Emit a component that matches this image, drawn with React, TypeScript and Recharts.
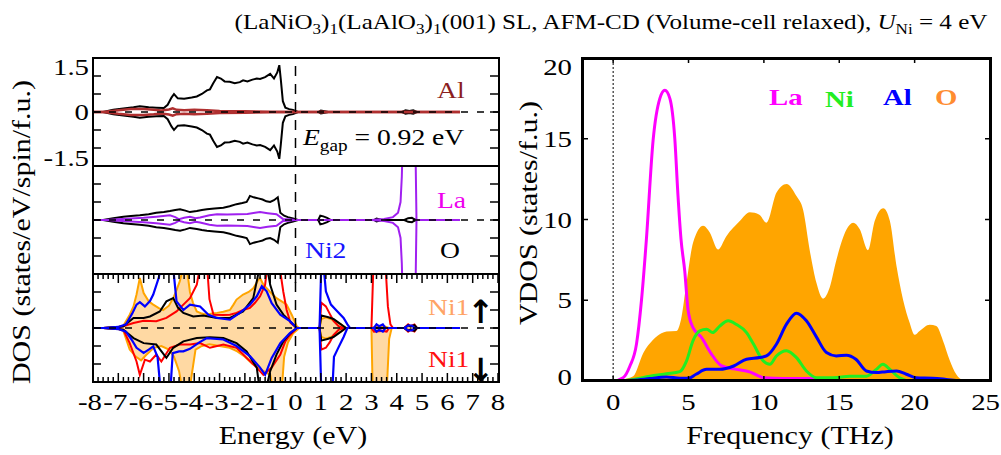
import React from 'react';
import { Area, ComposedChart, Line, ReferenceLine, XAxis, YAxis } from 'recharts';

type Pt = [number, number];

const SERIF = "'Liberation Serif', 'Times New Roman', serif";
const SX = 1.2; // the source figure's lettering is stretched sideways

// ---- axes ----
const energyLabels = [-8, -7, -6, -5, -4, -3, -2, -1, 0, 1, 2, 3, 4, 5, 6, 7, 8];
const dosYTicks = [-1.5, -1, -0.5, 0, 0.5, 1, 1.5];
const dosYLabels = [1.5, 0, -1.5];
const freqTicks = [0, 5, 10, 15, 20, 25];
const vdosYTicks = [0, 5, 10, 15, 20];

// ---- DOS, top panel (Al layer), mirrored spin channels ----
const topBlack: Pt[] = [
  [-8, 0], [-7.6, 0], [-7.2, 0.06], [-6.8, 0.1], [-6.4, 0.13], [-6.15, 0.16], [-5.8, 0.13], [-5.5, 0.12],
  [-5.2, 0.11], [-5.05, 0.2], [-4.9, 0.4], [-4.8, 0.5], [-4.65, 0.38], [-4.4, 0.37], [-4.1, 0.4], [-3.9, 0.43],
  [-3.7, 0.5], [-3.5, 0.6], [-3.38, 0.63], [-3.25, 0.8], [-3.1, 0.97], [-2.95, 0.93], [-2.8, 0.85], [-2.6, 0.84],
  [-2.4, 0.8], [-2.2, 0.83], [-2.07, 0.88], [-1.9, 0.85], [-1.7, 0.9], [-1.53, 0.93], [-1.4, 0.92], [-1.2, 0.97],
  [-1.0, 1.06], [-0.85, 0.93], [-0.72, 1.1], [-0.64, 1.3], [-0.58, 0.9], [-0.5, 0.3], [-0.4, 0.12], [-0.25, 0.08],
  [-0.1, 0.06], [0.1, 0], [0.9, 0], [1.0, 0.04], [1.15, 0.02], [1.3, 0], [4.2, 0], [4.35, 0.05], [4.5, 0.03],
  [4.65, 0.05], [4.8, 0], [6.5, 0],
];
const topAl: Pt[] = [
  [-8, 0], [-7.6, 0], [-7.0, 0.05], [-6.5, 0.08], [-6.0, 0.08], [-5.6, 0.06], [-5.3, 0.04], [-5.0, 0.07],
  [-4.85, 0.1], [-4.7, 0.06], [-4.4, 0.05], [-4.0, 0.06], [-3.5, 0.05], [-3.0, 0.03], [-2.0, 0.02], [-1.0, 0.01],
  [0, 0], [6.5, 0],
];

// ---- DOS, middle panel (La, O) ----
const midBlack: Pt[] = [
  [-8, 0], [-7.6, 0], [-7.2, 0.05], [-6.8, 0.09], [-6.5, 0.11], [-6.15, 0.13], [-5.8, 0.16], [-5.5, 0.2],
  [-5.2, 0.22], [-4.96, 0.25], [-4.75, 0.28], [-4.56, 0.3], [-4.35, 0.26], [-4.17, 0.22], [-3.9, 0.25],
  [-3.7, 0.28], [-3.5, 0.3], [-3.2, 0.32], [-2.85, 0.34], [-2.6, 0.38], [-2.33, 0.44], [-2.1, 0.47],
  [-1.93, 0.5], [-1.85, 0.6], [-1.8, 0.67], [-1.65, 0.63], [-1.47, 0.6], [-1.3, 0.57], [-1.15, 0.52],
  [-1.0, 0.5], [-0.85, 0.55], [-0.7, 0.63], [-0.6, 0.2], [-0.45, 0.12], [-0.3, 0.08], [-0.1, 0.04], [0.1, 0],
  [0.9, 0], [0.98, 0.12], [1.1, 0.1], [1.25, 0.06], [1.4, 0], [3.1, 0], [3.2, 0.04], [3.3, 0.02], [3.4, 0],
  [4.3, 0], [4.45, 0.05], [4.6, 0.06], [4.7, 0.02], [4.8, 0], [6.5, 0],
];
const midLa: Pt[] = [
  [-8, 0], [-7.5, 0], [-6.5, 0.04], [-6.0, 0.06], [-5.5, 0.09], [-4.96, 0.13], [-4.75, 0.08], [-4.6, 0.02],
  [-4.4, 0.06], [-4.17, 0.09], [-3.95, 0.05], [-3.77, 0.07], [-3.4, 0.13], [-3.1, 0.16], [-2.7, 0.15],
  [-2.3, 0.16], [-1.9, 0.17], [-1.6, 0.2], [-1.4, 0.22], [-1.1, 0.19], [-0.75, 0.16], [-0.5, 0.03],
  [-0.3, 0.02], [0, 0], [3.0, 0], [3.5, 0.03], [3.85, 0.08], [4.05, 0.2], [4.15, 0.5], [4.2, 1.2], [4.23, 2],
  [4.74, 2], [4.78, 0], [6.5, 0],
];

// ---- DOS, bottom panel (Ni1, Ni2) ----
const botOrangeUp: Pt[] = [
  [-8, 0], [-7.6, 0], [-7.0, 0.03], [-6.8, 0.06], [-6.55, 0.37], [-6.4, 0.6], [-6.28, 0.93], [-6.15, 1.39],
  [-6.0, 0.97], [-5.8, 0.74], [-5.62, 0.65], [-5.4, 0.55], [-5.23, 0.5], [-5.0, 0.62], [-4.83, 0.83],
  [-4.7, 1.05], [-4.57, 1.3], [-4.43, 1.7], [-4.3, 1.7], [-4.17, 1.0], [-4.05, 0.7], [-3.9, 0.46], [-3.7, 0.4],
  [-3.5, 0.37], [-3.3, 0.4], [-3.1, 0.42], [-2.85, 0.45], [-2.59, 0.5], [-2.45, 0.65], [-2.33, 0.79],
  [-2.07, 0.93], [-1.85, 1.0], [-1.67, 1.1], [-1.5, 1.3], [-1.4, 1.39], [-1.27, 1.2], [-1.0, 1.0],
  [-0.75, 0.83], [-0.5, 0.72], [-0.35, 0.65], [-0.15, 0.37], [0.05, 0.05], [0.15, 0], [0.95, 0], [1.02, 0.25],
  [1.2, 0.3], [1.4, 0.25], [1.6, 0.18], [1.8, 0.1], [2.0, 0], [3.0, 0], [3.2, 0.05], [3.5, 0.05], [3.7, 0],
  [4.3, 0], [4.5, 0.06], [4.7, 0.06], [4.8, 0], [6.5, 0],
];
const botOrangeDown: Pt[] = [
  [-8, 0], [-7.6, 0], [-7.0, -0.03], [-6.8, -0.08], [-6.55, -0.6], [-6.3, -0.8], [-6.1, -0.9], [-5.9, -0.75],
  [-5.6, -0.55], [-5.3, -0.5], [-5.0, -0.6], [-4.8, -0.8], [-4.6, -1.2], [-4.45, -1.8], [-4.2, -1.8],
  [-4.1, -1.3], [-3.95, -0.6], [-3.7, -0.5], [-3.4, -0.45], [-3.0, -0.5], [-2.6, -0.55], [-2.3, -0.65],
  [-2.0, -0.8], [-1.7, -1.0], [-1.45, -1.1], [-1.25, -1.2], [-1.0, -1.3], [-0.85, -1.8], [-0.55, -1.8],
  [-0.45, -0.8], [-0.3, -0.4], [-0.1, -0.15], [0.15, 0], [0.95, 0], [1.02, -0.25], [1.2, -0.3], [1.4, -0.25],
  [1.6, -0.18], [1.8, -0.1], [2.0, 0], [3.0, 0], [3.05, -1.8], [3.6, -1.8], [3.7, -0.3], [3.8, 0], [4.3, 0],
  [4.5, -0.06], [4.7, -0.06], [4.8, 0], [6.5, 0],
];
const botRedUp: Pt[] = [
  [-8, 0], [-7.6, 0], [-7.0, 0.03], [-6.8, 0.05], [-6.4, 0.14], [-6.0, 0.2], [-5.5, 0.19], [-5.1, 0.28],
  [-4.7, 0.46], [-4.43, 0.65], [-4.17, 0.83], [-3.9, 1.2], [-3.75, 1.8], [-3.5, 1.8], [-3.4, 0.8],
  [-3.24, 0.37], [-2.85, 0.36], [-2.59, 0.37], [-2.33, 0.42], [-2.07, 0.5], [-1.8, 0.56], [-1.6, 0.7],
  [-1.4, 0.88], [-1.2, 1.2], [-1.1, 1.8], [-0.65, 1.8], [-0.48, 1.0], [-0.35, 0.5], [-0.2, 0.15], [0.05, 0],
  [0.95, 0], [1.02, 0.7], [1.2, 0.6], [1.35, 0.4], [1.5, 0.2], [1.7, 0.05], [1.9, 0], [3.0, 0], [3.08, 1.8],
  [3.55, 1.8], [3.65, 0.6], [3.75, 0.1], [3.85, 0], [4.3, 0], [4.45, 0.1], [4.55, 0.05], [4.7, 0.1], [4.8, 0],
  [6.5, 0],
];
const botRedDown: Pt[] = [
  [-8, 0], [-7.6, 0], [-7.0, -0.03], [-6.8, -0.05], [-6.55, -0.42], [-6.28, -0.93], [-6.15, -1.3],
  [-5.95, -0.88], [-5.75, -0.93], [-5.5, -0.74], [-5.3, -0.93], [-4.96, -0.55], [-4.57, -0.46],
  [-4.17, -0.46], [-3.77, -0.42], [-3.38, -0.55], [-2.85, -0.46], [-2.33, -0.55], [-1.93, -0.83],
  [-1.53, -1.1], [-1.27, -1.3], [-0.94, -1.1], [-0.6, -0.74], [-0.4, -0.37], [-0.22, -0.2], [0.05, 0],
  [0.95, 0], [1.02, -0.6], [1.2, -0.55], [1.35, -0.4], [1.5, -0.2], [1.7, -0.05], [1.9, 0], [3.0, 0],
  [3.1, -0.1], [3.4, -0.08], [3.6, -0.1], [3.7, 0], [4.3, 0], [4.45, -0.1], [4.55, -0.05], [4.7, -0.1],
  [4.8, 0], [6.5, 0],
];
const botBlackUp: Pt[] = [
  [-8, 0], [-7.6, 0], [-7.0, 0.03], [-6.8, 0.05], [-6.4, 0.28], [-6.0, 0.28], [-5.75, 0.32], [-5.36, 0.46],
  [-5.1, 0.74], [-4.83, 0.83], [-4.64, 0.56], [-4.43, 0.42], [-4.04, 0.32], [-3.64, 0.35], [-3.1, 0.28],
  [-2.59, 0.28], [-2.07, 0.46], [-1.67, 0.83], [-1.5, 1.4], [-1.4, 1.8], [-1.15, 1.8], [-1.0, 1.2],
  [-0.75, 0.65], [-0.48, 0.37], [-0.22, 0.19], [0.05, 0], [0.95, 0], [1.02, 0.35], [1.3, 0.3], [1.5, 0.25],
  [1.7, 0.15], [1.9, 0.05], [2.0, 0], [4.3, 0], [4.45, 0.08], [4.55, 0.04], [4.7, 0.08], [4.8, 0], [6.5, 0],
];
const botBlackDown: Pt[] = [
  [-8, 0], [-7.6, 0], [-7.0, -0.03], [-6.8, -0.05], [-6.4, -0.28], [-6.0, -0.42], [-5.5, -0.46],
  [-5.1, -0.83], [-4.83, -0.55], [-4.43, -0.37], [-3.9, -0.28], [-3.38, -0.26], [-2.85, -0.28],
  [-2.33, -0.42], [-1.93, -0.65], [-1.53, -1.1], [-1.4, -1.8], [-1.2, -1.8], [-1.0, -1.2], [-0.75, -0.74],
  [-0.48, -0.37], [-0.22, -0.15], [0.05, 0], [0.95, 0], [1.02, -0.35], [1.3, -0.3], [1.5, -0.25],
  [1.7, -0.15], [1.9, -0.05], [2.0, 0], [4.3, 0], [4.45, -0.08], [4.55, -0.04], [4.7, -0.08], [4.8, 0], [6.5, 0],
];
const botBlueUp: Pt[] = [
  [-8, 0], [-7.6, 0], [-7.0, 0.03], [-6.7, 0.1], [-6.45, 0.4], [-6.28, 0.65], [-6.15, 0.72], [-5.95, 0.6],
  [-5.75, 0.75], [-5.62, 0.93], [-5.4, 1.4], [-5.3, 1.8], [-4.85, 1.8], [-4.7, 0.74], [-4.43, 0.5],
  [-4.17, 0.65], [-3.77, 0.6], [-3.44, 0.37], [-3.1, 0.28], [-2.59, 0.23], [-2.2, 0.42], [-1.8, 0.65],
  [-1.53, 0.88], [-1.33, 1.16], [-1.14, 1.02], [-0.94, 0.69], [-0.6, 0.37], [-0.22, 0.19], [0.05, 0],
  [0.95, 0], [1.02, 1.8], [1.1, 1.8], [1.2, 1.02], [1.4, 0.65], [1.6, 0.5], [1.9, 0.28], [2.05, 0.1],
  [2.15, 0], [3.1, 0], [3.2, 0.1], [3.3, 0.05], [3.45, 0.1], [3.55, 0], [4.3, 0], [4.45, 0.07], [4.6, 0.07],
  [4.7, 0], [6.5, 0],
];
const botBlueDown: Pt[] = [
  [-8, 0], [-7.6, 0], [-7.0, -0.03], [-6.7, -0.1], [-6.45, -0.35], [-6.28, -0.55], [-6.0, -0.69],
  [-5.8, -0.6], [-5.62, -0.51], [-5.45, -0.8], [-5.32, -1.8], [-4.95, -1.8], [-4.85, -0.7], [-4.6, -0.65],
  [-4.43, -0.65], [-4.17, -0.58], [-3.8, -0.4], [-3.5, -0.28], [-2.85, -0.32], [-2.33, -0.5], [-1.8, -0.78],
  [-1.4, -1.1], [-1.2, -1.3], [-0.94, -0.83], [-0.6, -0.42], [-0.22, -0.14], [0.05, 0], [0.95, 0],
  [1.02, -1.8], [1.45, -1.8], [1.52, -0.8], [1.67, -0.58], [1.9, -0.25], [2.05, 0], [3.1, 0], [3.2, -0.1],
  [3.3, -0.05], [3.45, -0.1], [3.55, 0], [4.3, 0], [4.45, -0.07], [4.6, -0.07], [4.7, 0], [6.5, 0],
];

// ---- phonon VDOS (THz, states/f.u.) ----
const vdosO: Pt[] = [
  [-2, 0], [0, 0], [0.66, 0.1], [1.33, 0.3], [2.0, 1.74], [2.65, 2.55], [3.2, 2.95], [3.54, 3.06], [4.2, 3.1],
  [4.5, 3.8], [4.87, 6.1], [5.3, 8.56], [5.97, 9.62], [6.41, 9.2], [6.96, 8.14], [7.5, 8.95], [8.4, 9.9],
  [9.06, 10.45], [9.7, 10.3], [10.17, 9.8], [10.83, 11.65], [11.5, 12.2], [12.16, 11.45], [12.6, 10.6],
  [13.04, 8.1], [13.48, 6.1], [13.93, 5.1], [14.37, 5.8], [14.81, 7.5], [15.48, 9.38], [15.92, 9.8],
  [16.36, 9.4], [16.91, 8.1], [17.35, 9.9], [17.92, 10.7], [18.36, 9.9], [18.8, 7.1], [19.24, 5.0],
  [19.67, 3.6], [20.0, 2.86], [20.33, 3.1], [21.0, 3.48], [21.44, 3.4], [21.88, 2.5], [22.32, 1.3],
  [22.77, 0.4], [23.2, 0.05], [23.6, 0], [25, 0],
];
const vdosLa: Pt[] = [
  [-2, 0], [0, 0], [0.66, 0.2], [1.1, 0.9], [1.55, 2.3], [1.88, 5.0], [2.2, 8.7], [2.65, 14.9], [3.1, 17.5],
  [3.43, 18.0], [3.76, 17.5], [4.09, 15.0], [4.3, 11.5], [4.5, 8.8], [4.75, 6.8], [4.97, 4.4], [5.3, 3.3],
  [5.86, 2.7], [6.5, 1.7], [7.17, 0.95], [8.0, 0.75], [9.1, 0.55], [10.0, 0.2], [11.3, 0.15], [13.5, 0.15],
  [14.6, 0.05], [16, 0.02], [20, 0], [25, 0],
];
const vdosNi: Pt[] = [
  [-2, 0], [0, 0], [1.33, 0.1], [2.43, 0.3], [3.54, 0.45], [4.42, 0.58], [4.87, 1.25], [5.3, 2.5],
  [5.75, 3.1], [6.2, 3.2], [6.6, 3.0], [7.07, 3.4], [7.63, 3.73], [8.18, 3.5], [8.85, 3.0], [9.3, 2.3],
  [9.95, 1.25], [10.4, 1.03], [10.83, 1.55], [11.5, 1.88], [12.16, 1.45], [12.82, 0.62], [13.5, 0.2],
  [14.6, 0.2], [15.7, 0.3], [16.8, 0.3], [17.46, 0.72], [17.9, 1.03], [18.36, 0.72], [19.0, 0.2],
  [19.7, 0.02], [25, 0],
];
const vdosAl: Pt[] = [
  [-2, 0], [0, 0], [1.33, 0.05], [2.43, 0.15], [3.54, 0.25], [4.42, 0.17], [5.0, 0.17], [5.5, 0.42],
  [6.2, 0.72], [7.07, 0.72], [8.0, 0.93], [8.85, 1.35], [9.73, 1.45], [10.17, 1.55], [10.83, 2.28],
  [11.5, 3.52], [12.16, 4.2], [12.82, 3.73], [13.5, 2.7], [14.15, 1.76], [14.8, 1.55], [15.48, 1.6],
  [16.1, 1.35], [16.8, 0.62], [17.46, 0.52], [18.1, 0.58], [18.8, 0.62], [19.45, 0.42], [20.1, 0.2],
  [21.2, 0.17], [22.1, 0.1], [23, 0.02], [25, 0],
];

// ---- layout ----
const DOS_W = 405;
const DOS_H = 108;
const V_W = 407;
const V_H = 323;

const minorTicks = Array.from({ length: 81 }, (_, i) => Math.round((-8 + i * 0.2) * 10) / 10);

const pts = (d: Pt[], sign = 1) => d.map(([e, v]) => ({ e, v: sign * v }));

function Txt({
  x, y, size = 23, anchor = 'start', fill = '#000', weight = 'normal', rotate = 0, sx = SX, children,
}: {
  x: number; y: number; size?: number; anchor?: 'start' | 'middle' | 'end'; fill?: string;
  weight?: string; rotate?: number; sx?: number; children: React.ReactNode;
}) {
  const t = `translate(${x} ${y})${rotate ? ` rotate(${rotate})` : ''} scale(${sx} 1)`;
  return (
    <text transform={t} fontSize={size} textAnchor={anchor} fill={fill} fontWeight={weight} fontFamily={SERIF}>
      {children}
    </text>
  );
}

const dosXTick = (withLabels: boolean) => (p: any) => {
  const v = p.payload.value as number;
  const major = Math.abs(v - Math.round(v)) < 1e-6;
  const len = major ? 9 : 5;
  const show = withLabels && energyLabels.includes(Math.round(v)) && major;
  return (
    <g>
      <line x1={p.x} x2={p.x} y1={p.y} y2={p.y - len} stroke="#000" strokeWidth={1.5} />
      <line x1={p.x} x2={p.x} y1={p.y - DOS_H} y2={p.y - DOS_H + len} stroke="#000" strokeWidth={1.5} />
      {show && (
        <Txt x={p.x + (v < 0 ? -3 : 0)} y={p.y + 28} anchor="middle" size={24}>
          {String(Math.round(v))}
        </Txt>
      )}
    </g>
  );
};

const dosYTick = (labels: number[]) => (p: any) => {
  const v = p.payload.value as number;
  const dy = v > 1 ? 17 : v < -1 ? 0 : 8;
  return (
    <g>
      <line x1={p.x} x2={p.x + 8} y1={p.y} y2={p.y} stroke="#000" strokeWidth={1.5} />
      <line x1={p.x + DOS_W} x2={p.x + DOS_W - 8} y1={p.y} y2={p.y} stroke="#000" strokeWidth={1.5} />
      {labels.includes(v) && (
        <Txt x={p.x - 4} y={p.y + dy} anchor="end" size={24}>
          {String(v)}
        </Txt>
      )}
    </g>
  );
};

const vXTick = (p: any) => {
  const v = p.payload.value as number;
  const last = v === freqTicks[freqTicks.length - 1];
  return (
    <g>
      <line x1={p.x} x2={p.x} y1={p.y} y2={p.y - 5} stroke="#000" strokeWidth={1.5} />
      <line x1={p.x} x2={p.x} y1={p.y - V_H} y2={p.y - V_H + 5} stroke="#000" strokeWidth={1.5} />
      <Txt x={last ? p.x + 10 : p.x} y={p.y + 29} anchor={last ? 'end' : 'middle'} size={24}>{String(v)}</Txt>
    </g>
  );
};

const vYTick = (p: any) => {
  const v = p.payload.value as number;
  const dy = v === 20 ? 17 : v === 0 ? 4 : 8;
  return (
    <g>
      <line x1={p.x} x2={p.x + 5} y1={p.y} y2={p.y} stroke="#000" strokeWidth={1.5} />
      <line x1={p.x + V_W} x2={p.x + V_W - 5} y1={p.y} y2={p.y} stroke="#000" strokeWidth={1.5} />
      <Txt x={p.x - 11} y={p.y + dy} anchor="end" size={24}>{String(v)}</Txt>
    </g>
  );
};

function DosPanel({ top, bottom, labels, children }: {
  top: number; bottom: boolean; labels: number[]; children: React.ReactNode;
}) {
  const axisH = bottom ? 70 : 0;
  return (
    <div style={{ position: 'absolute', left: 0, top }}>
      <ComposedChart
        width={510}
        height={12 + DOS_H + (bottom ? axisH : 12)}
        margin={{ top: 12, right: 12, bottom: bottom ? 0 : 12, left: 0 }}
      >
        <XAxis
          dataKey="e" type="number" domain={[-8, 8]} allowDataOverflow ticks={minorTicks} interval={0}
          height={axisH} tickSize={0} tickMargin={0} axisLine={false} tickLine={false} tick={dosXTick(bottom)}
        />
        <YAxis
          type="number" domain={[-1.5, 1.5]} allowDataOverflow ticks={dosYTicks} interval={0} width={93}
          tickSize={0} tickMargin={0} axisLine={false} tickLine={false} tick={dosYTick(labels)}
        />
        {children}
        <ReferenceLine y={0} stroke="#000" strokeWidth={1.5} strokeDasharray="7 9" />
        <ReferenceLine x={0} stroke="#000" strokeWidth={1.5} strokeDasharray="10 8" />
      </ComposedChart>
    </div>
  );
}

const lineProps = { dataKey: 'v', type: 'linear' as const, dot: false, activeDot: false, isAnimationActive: false };

const box = (left: number, top: number, width: number, height: number, bw: number): React.CSSProperties => ({
  position: 'absolute', left, top, width, height, border: `${bw}px solid #000`, boxSizing: 'border-box',
  pointerEvents: 'none',
});

export default function App() {
  return (
    <div style={{ position: 'absolute', left: 0, top: 0, width: 1001, height: 455, background: '#fff', overflow: 'hidden' }}>
      <DosPanel top={46} bottom={false} labels={dosYLabels}>
        <Line data={pts(topBlack)} stroke="#000" strokeWidth={2} {...lineProps} />
        <Line data={pts(topBlack, -1)} stroke="#000" strokeWidth={2} {...lineProps} />
        <Line data={pts(topAl)} stroke="#b03030" strokeWidth={2.5} {...lineProps} />
        <Line data={pts(topAl, -1)} stroke="#b03030" strokeWidth={2.5} {...lineProps} />
      </DosPanel>
      <DosPanel top={154} bottom={false} labels={[]}>
        <Line data={pts(midBlack)} stroke="#000" strokeWidth={2} {...lineProps} />
        <Line data={pts(midBlack, -1)} stroke="#000" strokeWidth={2} {...lineProps} />
        <Line data={pts(midLa)} stroke="#a020f0" strokeWidth={2} {...lineProps} />
        <Line data={pts(midLa, -1)} stroke="#a020f0" strokeWidth={2} {...lineProps} />
      </DosPanel>
      <DosPanel top={262} bottom labels={[]}>
        <Area data={pts(botOrangeUp)} dataKey="v" type="linear" baseValue={0} fill="#ffd9a3" fillOpacity={1}
          stroke="#ffa500" strokeWidth={2} dot={false} activeDot={false} isAnimationActive={false} />
        <Area data={pts(botOrangeDown)} dataKey="v" type="linear" baseValue={0} fill="#ffd9a3" fillOpacity={1}
          stroke="#ffa500" strokeWidth={2} dot={false} activeDot={false} isAnimationActive={false} />
        <Line data={pts(botRedUp)} stroke="#ff0000" strokeWidth={2} {...lineProps} />
        <Line data={pts(botRedDown)} stroke="#ff0000" strokeWidth={2} {...lineProps} />
        <Line data={pts(botBlackUp)} stroke="#000" strokeWidth={2} {...lineProps} />
        <Line data={pts(botBlackDown)} stroke="#000" strokeWidth={2} {...lineProps} />
        <Line data={pts(botBlueUp)} stroke="#0000ff" strokeWidth={2.2} {...lineProps} />
        <Line data={pts(botBlueDown)} stroke="#0000ff" strokeWidth={2.2} {...lineProps} />
      </DosPanel>

      <div style={{ position: 'absolute', left: 500, top: 46 }}>
        <ComposedChart width={501} height={409} margin={{ top: 12, right: 11, bottom: 0, left: 0 }}>
          <XAxis
            dataKey="e" type="number" domain={[-2, 25]} allowDataOverflow ticks={freqTicks} interval={0}
            height={74} tickSize={0} tickMargin={0} axisLine={false} tickLine={false} tick={vXTick}
          />
          <YAxis
            type="number" domain={[0, 20]} allowDataOverflow ticks={vdosYTicks} interval={0} width={83}
            tickSize={0} tickMargin={0} axisLine={false} tickLine={false} tick={vYTick}
          />
          <Area data={pts(vdosO)} dataKey="v" type="monotone" baseValue={0} fill="#ffa500" fillOpacity={1}
            stroke="none" dot={false} activeDot={false} isAnimationActive={false} />
          <ReferenceLine x={0} stroke="#000" strokeWidth={1} strokeDasharray="2 2" />
          <Line data={pts(vdosLa)} dataKey="v" type="monotone" stroke="#ff00ff" strokeWidth={3}
            dot={false} activeDot={false} isAnimationActive={false} />
          <Line data={pts(vdosNi)} dataKey="v" type="monotone" stroke="#22ee22" strokeWidth={3}
            dot={false} activeDot={false} isAnimationActive={false} />
          <Line data={pts(vdosAl)} dataKey="v" type="monotone" stroke="#0000ff" strokeWidth={3}
            dot={false} activeDot={false} isAnimationActive={false} />
        </ComposedChart>
      </div>

      <div style={box(92, 57, 408, 110, 2)} />
      <div style={box(92, 165, 408, 110, 2)} />
      <div style={box(92, 273, 408, 110, 2)} />
      <div style={box(581, 57, 411, 325, 3)} />

      <svg width={1001} height={455} style={{ position: 'absolute', left: 0, top: 0, pointerEvents: 'none' }}>
        <Txt x={611} y={29} anchor="middle" size={22} sx={1.14}>
          (LaNiO<tspan dy={5} fontSize={15}>3</tspan>
          <tspan dy={-5}>)</tspan>
          <tspan dy={5} fontSize={15}>1</tspan>
          <tspan dy={-5}>(LaAlO</tspan>
          <tspan dy={5} fontSize={15}>3</tspan>
          <tspan dy={-5}>)</tspan>
          <tspan dy={5} fontSize={15}>1</tspan>
          <tspan dy={-5}>(001) SL, AFM-CD (Volume-cell relaxed), </tspan>
          <tspan fontStyle="italic">U</tspan>
          <tspan dy={5} fontSize={15}>Ni</tspan>
          <tspan dy={-5}> = 4 eV</tspan>
        </Txt>

        <Txt x={30} y={232} rotate={-90} anchor="middle" size={25}>DOS (states/eV/spin/f.u.)</Txt>
        <Txt x={293} y={444} anchor="middle" size={25}>Energy (eV)</Txt>
        <Txt x={537} y={213} rotate={-90} anchor="middle" size={25}>VDOS (states/f.u.)</Txt>
        <Txt x={790} y={444} anchor="middle" size={25}>Frequency (THz)</Txt>

        <Txt x={437} y={98} fill="#8b1e1e">Al</Txt>
        <Txt x={303} y={145}>
          <tspan fontStyle="italic">E</tspan>
          <tspan dy={6} fontSize={16}>gap</tspan>
          <tspan dy={-6}> = 0.92 eV</tspan>
        </Txt>
        <Txt x={437} y={208} fill="#ee00ee">La</Txt>
        <Txt x={305} y={258} fill="#1515ff">Ni2</Txt>
        <Txt x={440} y={258}>O</Txt>
        <Txt x={428} y={315} fill="#ffa366">Ni1</Txt>
        <Txt x={428} y={367} fill="#ff1010">Ni1</Txt>
        <text x={481} y={323} fontSize={32} textAnchor="middle" fontFamily="'DejaVu Sans'" fontWeight="bold">↑</text>
        <text x={481} y={381} fontSize={32} textAnchor="middle" fontFamily="'DejaVu Sans'" fontWeight="bold">↓</text>

        <Txt x={769} y={105} size={24} weight="bold" fill="#ff00ff">La</Txt>
        <Txt x={825} y={107} size={24} weight="bold" fill="#22ee22">Ni</Txt>
        <Txt x={883} y={105} size={24} weight="bold" fill="#0000ff">Al</Txt>
        <Txt x={935} y={105} size={24} weight="bold" fill="#ff8c30">O</Txt>
      </svg>
    </div>
  );
}
